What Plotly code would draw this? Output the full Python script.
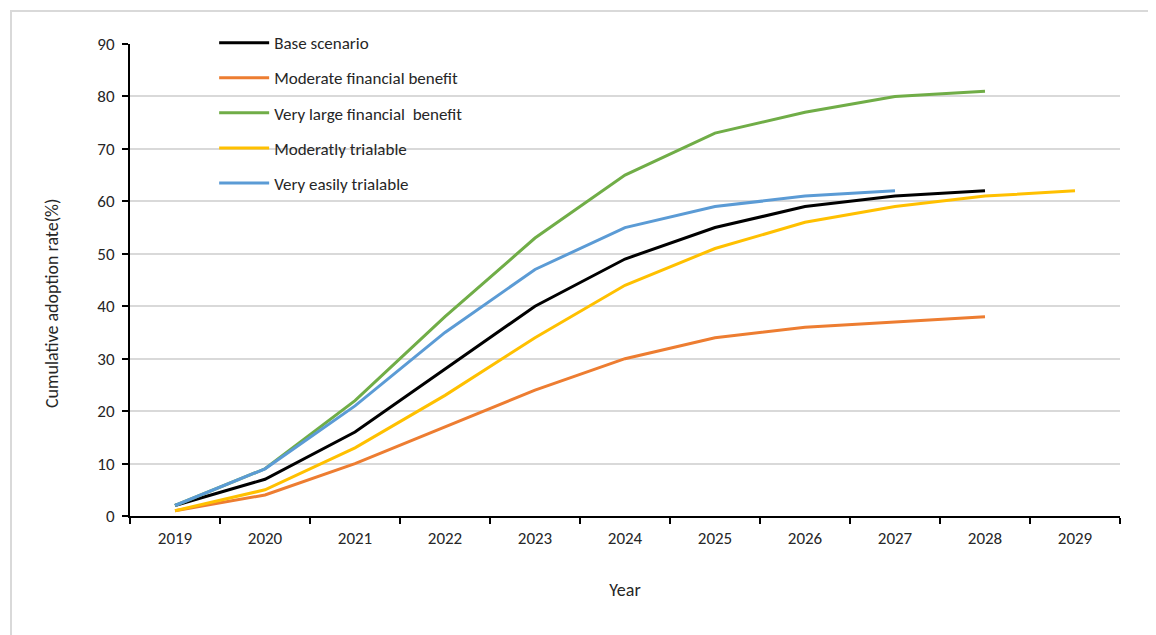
import plotly.graph_objects as go

years = ["2019", "2020", "2021", "2022", "2023", "2024", "2025", "2026", "2027", "2028", "2029"]

base_scenario = [2, 7, 16, 28, 40, 49, 55, 59, 61, 62]
moderate_financial = [1, 4, 10, 17, 24, 30, 34, 36, 37, 38]
very_large_financial = [2, 9, 22, 38, 53, 65, 73, 77, 80, 81]
moderately_trialable = [1, 5, 13, 23, 34, 44, 51, 56, 59, 61, 62]
very_easily_trialable = [2, 9, 21, 35, 47, 55, 59, 61, 62]

series = [
    ("Base scenario", base_scenario, "#000000"),
    ("Moderate financial benefit", moderate_financial, "#ED7D31"),
    ("Very large financial  benefit", very_large_financial, "#70AD47"),
    ("Moderatly trialable", moderately_trialable, "#FFC000"),
    ("Very easily trialable", very_easily_trialable, "#5B9BD5"),
]

FONT = "Calibri, Carlito, Lato, sans-serif"
TXT = "#262626"

fig = go.Figure()
for i, (name, vals, color) in enumerate(series):
    fig.add_trace(go.Scatter(
        x=years[:len(vals)], y=vals, name=name, mode="lines",
        line=dict(color=color, width=3),
        legendgroup=f"g{i}",
    ))

fig.update_layout(
    width=1148, height=627,
    margin=dict(l=122, r=36, t=36, b=119, autoexpand=False),
    paper_bgcolor="white", plot_bgcolor="white",
    font=dict(family=FONT, size=17, color=TXT),
    showlegend=True,
    legend=dict(
        x=0.085, y=1.04, xanchor="left", yanchor="top",
        bgcolor="rgba(255,255,255,0)",
        font=dict(family=FONT, size=17, color=TXT),
        tracegroupgap=10,
        itemwidth=50,
    ),
    xaxis=dict(
        type="category", categoryorder="array", categoryarray=years,
        range=[-0.5, 10.5],
        showline=True, linecolor="black", linewidth=2,
        ticks="outside", tickson="boundaries", ticklen=6, tickwidth=2, tickcolor="black",
        ticklabelstandoff=6,
        showgrid=False, zeroline=False,
        tickfont=dict(family=FONT, size=17, color=TXT),
        title=dict(text="Year", standoff=35, font=dict(family=FONT, size=18, color=TXT)),
    ),
    yaxis=dict(
        range=[0, 90], dtick=10,
        showline=True, linecolor="black", linewidth=2,
        ticks="outside", ticklen=6, tickwidth=2, tickcolor="black",
        ticklabelstandoff=4,
        showgrid=True, gridcolor="#D9D9D9", gridwidth=2,
        zeroline=False,
        tickfont=dict(family=FONT, size=17, color=TXT),
    ),
    annotations=[dict(
        text="Cumulative adoption rate(%)", textangle=-90,
        xref="paper", yref="paper", x=-78/990, y=212/472,
        xanchor="center", yanchor="middle", showarrow=False,
        font=dict(family=FONT, size=18, color=TXT),
    )],
    shapes=[dict(type="rect", xref="paper", yref="paper",
                 x0=-119/990, x1=1 + 33/990, y0=-125/472, y1=1 + 33/472,
                 line=dict(color="#D9D9D9", width=2), layer="below")],
)

fig.write_html("out.html")
